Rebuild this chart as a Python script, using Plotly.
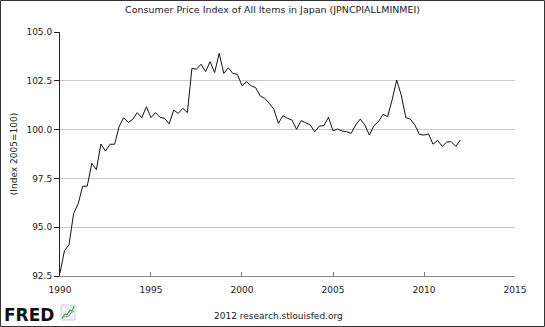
import pandas as pd
import plotly.graph_objects as go

# Quarterly CPI values, 1990Q1 .. 2012Q1 (Index 2005=100)
start_date = "1990-01-01"
cpi_values = [
    92.65, 93.80, 94.10, 95.70,     # 1990
    96.20, 97.10, 97.10, 98.27,     # 1991
    97.95, 99.26, 98.90, 99.25,     # 1992
    99.25, 100.15, 100.61, 100.37,  # 1993
    100.53, 100.87, 100.61, 101.17, # 1994
    100.61, 100.87, 100.63, 100.58, # 1995
    100.29, 101.00, 100.83, 101.09, # 1996
    100.87, 103.14, 103.09, 103.35, # 1997
    102.97, 103.48, 102.92, 103.91, # 1998
    102.88, 103.17, 102.88, 102.83, # 1999
    102.25, 102.45, 102.25, 102.15, # 2000
    101.72, 101.60, 101.35, 101.04, # 2001
    100.32, 100.71, 100.58, 100.49, # 2002
    100.01, 100.46, 100.35, 100.24, # 2003
    99.89, 100.18, 100.20, 100.63,  # 2004
    99.94, 100.03, 99.93, 99.89,    # 2005
    99.81, 100.24, 100.54, 100.24,  # 2006
    99.72, 100.20, 100.40, 100.78,  # 2007
    100.66, 101.52, 102.54, 101.77, # 2008
    100.61, 100.54, 100.24, 99.75,  # 2009
    99.72, 99.78, 99.25, 99.45,     # 2010
    99.14, 99.36, 99.38, 99.14,     # 2011
    99.47,                          # 2012
]
dates = pd.date_range(start_date, periods=len(cpi_values), freq="QS")

y_ticks = [92.5, 95.0, 97.5, 100.0, 102.5, 105.0]
y_ticklabels = ["92.5", "95.0", "97.5", "100.0", "102.5", "105.0"]
x_tick_years = [1990, 1995, 2000, 2005, 2010, 2015]

title_text = "Consumer Price Index of All Items in Japan (JPNCPIALLMINMEI)"
y_title = "(Index 2005=100)"
footer_text = "2012 research.stlouisfed.org"

FONT = "DejaVu Sans"

fig = go.Figure()
fig.add_trace(go.Scatter(
    x=dates, y=cpi_values, mode="lines",
    line=dict(color="#111111", width=1),
    hoverinfo="skip", showlegend=False,
))

W, H = 545, 327
L, R, T, B = 60, 30, 32, 51
pw, ph = W - L - R, H - T - B

def px_x(px):
    return (px - L) / pw

def px_y(py):
    return (H - B - py) / ph

fig.update_layout(
    width=W, height=H,
    margin=dict(l=L, r=R, t=T, b=B, pad=0, autoexpand=False),
    paper_bgcolor="white", plot_bgcolor="white",
    font=dict(family=FONT, size=9, color="#222222"),
    title=dict(text=title_text, x=0.5, xanchor="center",
               y=1 - 10 / H, yanchor="middle",
               font=dict(family=FONT, size=9.5, color="#222222")),
    xaxis=dict(
        type="date", automargin=False,
        range=[f"{x_tick_years[0]}-01-01", f"{x_tick_years[-1]}-01-01"],
        tickvals=[f"{y}-01-01" for y in x_tick_years],
        ticktext=[str(y) for y in x_tick_years],
        ticks="inside", ticklen=4, tickcolor="#777777", tickwidth=1,
        ticklabelstandoff=5,
        showline=True, linecolor="#888888", linewidth=1,
        showgrid=False, zeroline=False,
        tickfont=dict(family=FONT, size=9, color="#222222"),
    ),
    yaxis=dict(
        automargin=False,
        range=[y_ticks[0], y_ticks[-1]],
        tickvals=y_ticks, ticktext=y_ticklabels,
        ticks="outside", ticklen=5, tickcolor="#222222", tickwidth=1,
        showline=True, linecolor="#222222", linewidth=1,
        showgrid=True, gridcolor="#c8c8c8", gridwidth=1,
        zeroline=False,
        title=dict(text=y_title, standoff=7,
                   font=dict(family=FONT, size=9, color="#222222")),
        tickfont=dict(family=FONT, size=9, color="#222222"),
    ),
)

shapes = [
    # outer border
    dict(type="rect", xref="paper", yref="paper",
         x0=px_x(0.5), x1=px_x(W - 0.5), y0=px_y(H - 0.5), y1=px_y(0.5),
         line=dict(color="#333333", width=1), fillcolor="rgba(0,0,0,0)", layer="above"),
    # FRED icon box
    dict(type="rect", xref="paper", yref="paper",
         x0=px_x(61), x1=px_x(75), y0=px_y(320), y1=px_y(305),
         line=dict(color="#c9d3de", width=1), fillcolor="#eef2f7"),
    dict(type="path", xref="paper", yref="paper",
         path=f"M {px_x(62)},{px_y(318)} L {px_x(65)},{px_y(314)} L {px_x(67)},{px_y(315)} "
              f"L {px_x(70)},{px_y(310)} L {px_x(72)},{px_y(311)} L {px_x(74)},{px_y(306)}",
         line=dict(color="#5aa04a", width=1.2)),
    dict(type="path", xref="paper", yref="paper",
         path=f"M {px_x(62)},{px_y(319)} L {px_x(65)},{px_y(316)} L {px_x(68)},{px_y(317)} "
              f"L {px_x(71)},{px_y(313)} L {px_x(74)},{px_y(311)}",
         line=dict(color="#6f9fd0", width=1)),
]
fig.update_layout(shapes=shapes)

fig.add_annotation(text="<b>FRED</b>", xref="paper", yref="paper",
                   x=px_x(3), y=px_y(315), xanchor="left", yanchor="middle",
                   showarrow=False, borderpad=0,
                   font=dict(family=FONT, size=17, color="#111111"))
fig.add_annotation(text=footer_text, xref="paper", yref="paper",
                   x=px_x(278), y=px_y(316), xanchor="center", yanchor="middle",
                   showarrow=False, font=dict(family=FONT, size=9, color="#222222"))

fig.write_html("out.html")
